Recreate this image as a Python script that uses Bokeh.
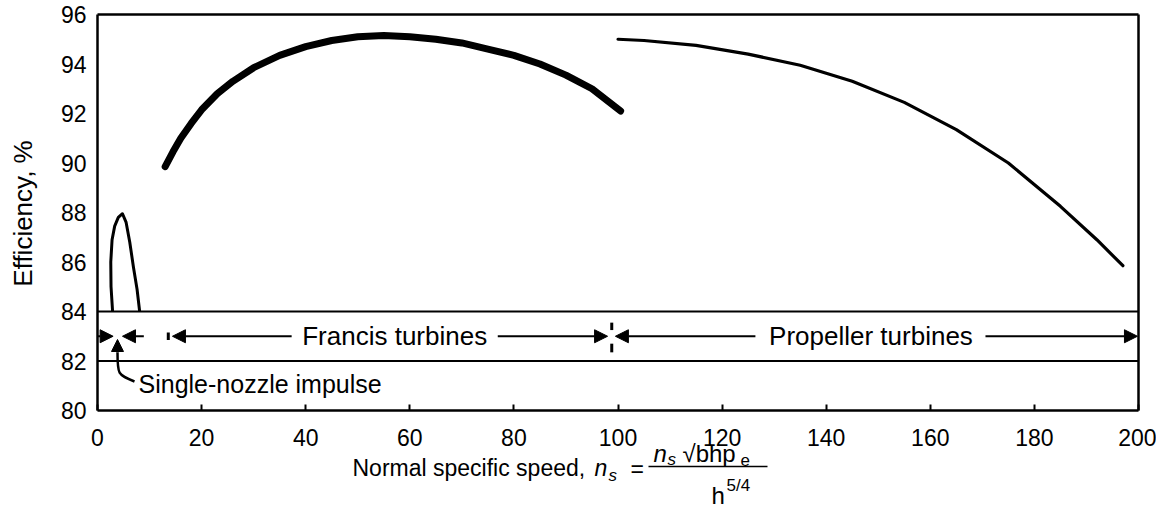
import math
from bokeh.plotting import figure
from bokeh.models import Label, Arrow, NormalHead, FixedTicker, Range1d
from bokeh.embed import file_html
from bokeh.resources import INLINE

# ---------------- data ----------------
x_ticks = [0, 20, 40, 60, 80, 100, 120, 140, 160, 180, 200]
y_ticks = [80, 82, 84, 86, 88, 90, 92, 94, 96]

francis_ns = [13, 14.5, 16, 18, 20, 23, 26, 30, 35, 40, 45, 50, 55, 60, 65, 70, 75, 80, 85, 90, 95, 100.5]
francis_eff = [89.85, 90.45, 91.0, 91.6, 92.15, 92.8, 93.3, 93.85, 94.35, 94.7, 94.95, 95.1, 95.15, 95.1, 95.0, 94.85, 94.6, 94.35, 94.0, 93.55, 93.0, 92.1]

propeller_ns = [100, 105, 115, 125, 135, 145, 155, 165, 175, 185, 192, 197]
propeller_eff = [95.0, 94.95, 94.75, 94.4, 93.95, 93.3, 92.45, 91.35, 90.0, 88.25, 86.9, 85.85]

impulse_ns = [2.9, 2.6, 2.55, 2.8, 3.3, 4.0, 4.8, 5.5, 6.2, 6.9, 7.6, 8.1]
impulse_eff = [84.0, 85.0, 86.0, 86.9, 87.45, 87.8, 87.95, 87.6, 86.8, 85.8, 84.9, 84.0]

band_top = 84
band_bottom = 82
arrow_level = 83

# ---------------- geometry (page pixels) ----------------
W, H = 1156, 524
X0, X1, Y0, Y1 = 0, 200, 80, 96
PX0, PX1 = 97, 1138          # page x of ns = 0 and ns = 200
PY1, PY0 = 14, 410           # page y of 96 % and 80 %
SX = (PX1 - PX0) / (X1 - X0)
SY = (PY0 - PY1) / (Y1 - Y0)


def pd(px, py):
    """page pixel -> data coordinates"""
    return X0 + (px - PX0) / SX, Y0 + (PY0 - py) / SY


x_lo, y_hi = pd(0, 0)
x_hi, y_lo = pd(W, H)

FONT = "Liberation Sans"

p = figure(width=W, height=H, x_range=Range1d(x_lo, x_hi), y_range=Range1d(y_lo, y_hi),
           output_backend="svg", toolbar_location=None,
           min_border_left=0, min_border_right=0, min_border_top=0, min_border_bottom=0)

p.background_fill_color = "white"
p.border_fill_color = "white"
p.outline_line_color = None
p.xgrid.visible = False
p.ygrid.visible = False

p.xaxis.ticker = FixedTicker(ticks=x_ticks)
p.yaxis.ticker = FixedTicker(ticks=y_ticks)
p.xaxis.fixed_location = Y0
p.yaxis.fixed_location = X0
p.xaxis.bounds = (X0, X1)
p.yaxis.bounds = (Y0, Y1)
for ax in (p.xaxis, p.yaxis):
    ax.axis_line_color = "black"
    ax.axis_line_width = 2.5
    ax.major_tick_line_color = "black"
    ax.major_tick_line_width = 2
    ax.minor_tick_line_color = None
    ax.major_tick_out = 0
    ax.major_label_text_font = FONT
    ax.major_label_text_font_size = "23px"
    ax.major_label_text_color = "black"
p.xaxis.major_tick_in = 6
p.yaxis.major_tick_in = 0
p.xaxis.major_label_standoff = 18
p.yaxis.major_label_standoff = 11

# y-axis title
lx, ly = pd(22, 213)
p.add_layout(Label(x=lx, y=ly, text="Efficiency, %", angle=math.pi / 2, text_align="center",
                   text_baseline="middle", text_font=FONT, text_font_size="26px", text_color="black"))

# top and right edges of the chart box, and the two band lines
p.segment(x0=[X0, X1], y0=[Y1, Y0], x1=[X1, X1], y1=[Y1, Y1], line_color="black", line_width=2.5)
p.segment(x0=[X0, X0], y0=[band_top, band_bottom], x1=[X1, X1], y1=[band_top, band_bottom],
          line_color="black", line_width=2)

# curves
p.line(francis_ns, francis_eff, line_color="black", line_width=7, line_cap="round", line_join="round")
p.line(propeller_ns, propeller_eff, line_color="black", line_width=3.2, line_cap="round", line_join="round")
p.line(impulse_ns, impulse_eff, line_color="black", line_width=3, line_join="round")


def arrow(xs, xe, y=arrow_level, size=13):
    p.add_layout(Arrow(end=NormalHead(size=size, fill_color="black", line_color="black"),
                       x_start=xs, y_start=y, x_end=xe, y_end=y,
                       line_color="black", line_width=2))


# range arrows at the 83 level
arrow(0, 3.0)
arrow(8.9, 4.8)
arrow(37.3, 14.4)
arrow(76.9, 98.0)
arrow(126.4, 99.5)
arrow(170.6, 199.8)

# small separator dashes
p.segment(x0=[13.6, 98.8, 98.8], y0=[82.85, 83.25, 82.35],
          x1=[13.6, 98.8, 98.8], y1=[83.15, 83.55, 82.7], line_color="black", line_width=3)

p.add_layout(Label(x=57.1, y=arrow_level, text="Francis turbines", text_align="center",
                   text_baseline="middle", text_font=FONT, text_font_size="26px", text_color="black"))
p.add_layout(Label(x=148.6, y=arrow_level, text="Propeller turbines", text_align="center",
                   text_baseline="middle", text_font=FONT, text_font_size="26px", text_color="black"))

# single-nozzle impulse label with curved pointer
sx_, sy_ = pd(138, 383)
p.add_layout(Label(x=sx_, y=sy_, text="Single-nozzle impulse", text_align="left",
                   text_baseline="middle", text_font=FONT, text_font_size="25px", text_color="black"))
bx0, by0 = pd(134, 381)
bcx, bcy = pd(117, 374)
bx1, by1 = pd(117, 352)
p.bezier(x0=[bx0], y0=[by0], x1=[bx1], y1=[by1], cx0=[bcx], cy0=[bcy], cx1=[bcx], cy1=[bcy],
         line_color="black", line_width=2.5)
ax_, ay_ = pd(117, 339)
p.add_layout(Arrow(end=NormalHead(size=12, fill_color="black", line_color="black"),
                   x_start=bx1, y_start=by1, x_end=ax_, y_end=ay_, line_color="black", line_width=2.5))


# x-axis title with formula, built from text pieces
def lab(px, py, text, size="23px", style="normal"):
    x, y = pd(px, py)
    p.add_layout(Label(x=x, y=y, text=text, text_align="left", text_baseline="alphabetic",
                       text_font=FONT, text_font_size=size, text_font_style=style, text_color="black"))


lab(352, 467, "Normal specific speed, ")
lab(594, 467, "n", style="italic")
lab(608, 475, "s", size="17px", style="italic")
lab(630, 468, "=")
lab(653, 453, "n", size="24px", style="italic")
lab(667, 459, "s", size="17px", style="italic")
lab(682, 453, "\u221abhp", size="24px")
lab(740, 459, "e", size="17px")
lab(711, 495, "h", size="24px")
lab(726, 485, "5/4", size="17px")
fx0, fy = pd(648, 466)
fx1, _ = pd(767, 466)
p.segment(x0=[fx0], y0=[fy], x1=[fx1], y1=[fy], line_color="black", line_width=1.5)

open("out.html", "w").write(file_html(p, INLINE))
